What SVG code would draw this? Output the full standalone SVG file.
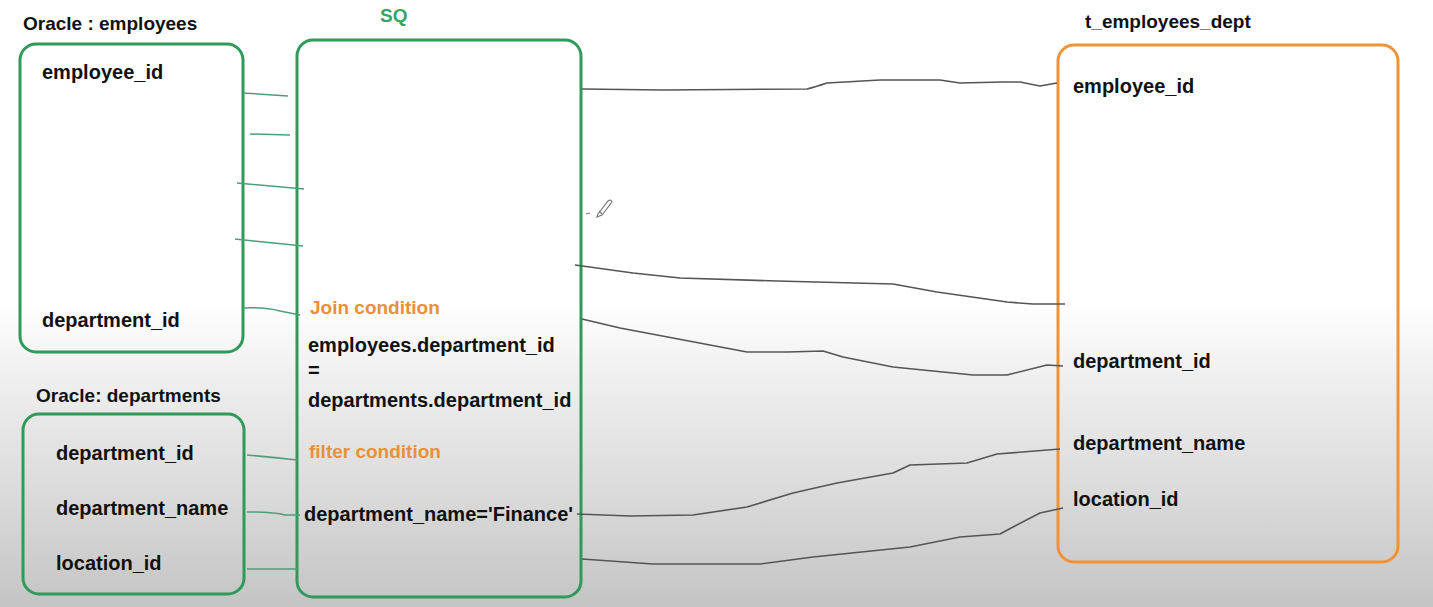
<svg xmlns="http://www.w3.org/2000/svg" width="1433" height="607" viewBox="0 0 1433 607">
<defs>
<linearGradient id="bg" x1="0" y1="0" x2="0" y2="607" gradientUnits="userSpaceOnUse">
<stop offset="0" stop-color="#ffffff"/>
<stop offset="0.5" stop-color="#ffffff"/>
<stop offset="0.62" stop-color="#efefef"/>
<stop offset="0.8" stop-color="#dcdcdc"/>
<stop offset="1" stop-color="#c4c4c4"/>
</linearGradient>
<style>
text{font-family:"Liberation Sans",Arial,sans-serif;font-weight:bold;fill:#111}
.f{font-size:20px}
.t{font-size:19px}
.o{font-size:19px;fill:#e8903a}
.g{font-size:19px;fill:#35a565}
.box{fill:none;stroke:#2f9a5a;stroke-width:3}
.obox{fill:none;stroke:#ef9436;stroke-width:3}
.gl{fill:none;stroke:#4d9f7c;stroke-width:1.5}
.bl{fill:none;stroke:#555;stroke-width:1.6;stroke-linejoin:round}
</style>
</defs>
<rect width="1433" height="607" fill="url(#bg)"/>

<g id="employees">
<text class="t" x="23" y="30">Oracle : employees</text>
<rect class="box" x="20" y="44" width="223" height="308" rx="16"/>
<text class="f" x="42" y="79">employee_id</text>
<text class="f" x="42" y="327">department_id</text>
</g>

<g id="departments">
<text class="t" x="36" y="402">Oracle: departments</text>
<rect class="box" x="23" y="414" width="221" height="180" rx="16"/>
<text class="f" x="56" y="460">department_id</text>
<text class="f" x="56" y="515">department_name</text>
<text class="f" x="56" y="570">location_id</text>
</g>

<g id="sq">
<text class="g" x="380" y="22">SQ</text>
<rect class="box" x="297" y="40" width="284" height="557" rx="16"/>
<text class="o" x="310" y="314">Join condition</text>
<text class="f" x="308" y="352">employees.department_id</text>
<text class="f" x="308" y="377">=</text>
<text class="f" x="308" y="407">departments.department_id</text>
<text class="o" x="309" y="458">filter condition</text>
<text class="f" x="304" y="521">department_name='Finance'</text>
</g>

<g id="t_employees_dept">
<text class="t" x="1085" y="28">t_employees_dept</text>
<rect class="obox" x="1058" y="45" width="340" height="517" rx="16"/>
<text class="f" x="1073" y="93">employee_id</text>
<text class="f" x="1073" y="368">department_id</text>
<text class="f" x="1073" y="450">department_name</text>
<text class="f" x="1073" y="506">location_id</text>
</g>

<g id="connectors">
<path class="gl" d="M243,93 L288,96"/>
<path class="gl" d="M250,134 L290,135"/>
<path class="gl" d="M237,183 L304,189"/>
<path class="gl" d="M235,239 L303,246"/>
<path class="gl" d="M243,308 Q265,307 280,311 L300,315"/>
<path class="gl" d="M247,455 Q270,457 297,460"/>
<path class="gl" d="M247,512 Q275,512 285,515 L300,515"/>
<path class="gl" d="M247,569 L297,569"/>

<path class="bl" d="M582,89 L663,90 L807,89 Q815,87 827,83 L880,80 L940,80 L960,83 L1003,82 L1020,82 L1040,86 L1057,83"/>
<path class="bl" d="M575,265 L633,273 L680,278 L777,281 L893,284 L937,292 L1007,302 L1033,304 L1065,304"/>
<path class="bl" d="M582,319 L620,328 L747,352 L787,352 L823,351 L843,357 L893,367 L973,375 L1007,375 L1047,365 L1063,366"/>
<path class="bl" d="M577,514 L630,516 L693,515 L747,507 L793,493 L837,483 L893,473 L910,465 L967,463 L997,454 L1060,449"/>
<path class="bl" d="M582,559 L653,564 L760,564 L813,557 L910,547 L960,537 L1000,534 L1013,527 L1040,513 L1063,508"/>
</g>

<g id="pencil" fill="none" stroke="#777" stroke-width="1.2">
<path d="M586,214 L590,213"/>
<path d="M598,214 L608,201 Q611,199 612,202 L602,215 L597,217 Z"/>
<path d="M599,211 L602,214"/>
</g>
</svg>
